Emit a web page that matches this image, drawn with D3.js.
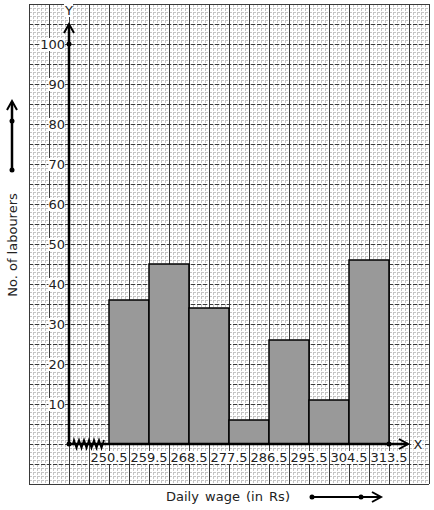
<!DOCTYPE html>
<html><head><meta charset="utf-8">
<script src="https://cdn.jsdelivr.net/npm/d3@7/dist/d3.min.js"></script>
<style>body{margin:0;background:#fff}svg{display:block}text{font-family:"DejaVu Sans",sans-serif;}</style>
</head><body>
<script>
const classBounds = [250.5, 259.5, 268.5, 277.5, 286.5, 295.5, 304.5, 313.5];
const labourers = [36, 45, 34, 6, 26, 11, 46];
const yTicks = [10, 20, 30, 40, 50, 60, 70, 80, 90, 100];
const xLabel = "Daily wage (in Rs)";
const yLabel = "No. of labourers";

const W = 434, H = 510;
const svg = d3.select("body").append("svg").attr("width", W).attr("height", H);

const x = d3.scaleLinear().domain([232.5, 322.5]).range([29, 429]);
const y = d3.scaleLinear().domain([-10, 110]).range([484, 4]);
const x0 = 241.5; // origin (broken axis)

// graph paper
const g = svg.append("g");
const xMinor = d3.range(0, 101).map(i => 232.5 + i * 0.9);
const yMinor = d3.range(-10, 111, 1);
g.selectAll(".vm").data(xMinor).join("line")
  .attr("x1", d => Math.round(x(d)) + 0.5).attr("x2", d => Math.round(x(d)) + 0.5)
  .attr("y1", y(110)).attr("y2", y(-10))
  .attr("stroke", "#c4c4c4").attr("stroke-width", 1).attr("stroke-dasharray", "3,1");
g.selectAll(".hm").data(yMinor).join("line")
  .attr("y1", d => Math.round(y(d)) + 0.5).attr("y2", d => Math.round(y(d)) + 0.5)
  .attr("x1", x(232.5)).attr("x2", x(322.5))
  .attr("stroke", "#c4c4c4").attr("stroke-width", 1).attr("stroke-dasharray", "3,1");
const xMajor = d3.range(0, 21).map(i => 232.5 + i * 4.5);
const yMajor = d3.range(-10, 111, 5);
g.selectAll(".vM").data(xMajor).join("line")
  .attr("x1", d => Math.round(x(d)) + 0.5).attr("x2", d => Math.round(x(d)) + 0.5)
  .attr("y1", y(110)).attr("y2", y(-10))
  .attr("stroke", "#3a3a3a").attr("stroke-width", 1);
g.selectAll(".hM").data(yMajor).join("line")
  .attr("y1", d => Math.round(y(d)) + 0.5).attr("y2", d => Math.round(y(d)) + 0.5)
  .attr("x1", x(232.5)).attr("x2", x(322.5))
  .attr("stroke", "#3a3a3a").attr("stroke-width", 1)
  .attr("stroke-dasharray", d => (d === -10 || d === 110) ? null : "4,2");

// bars
const bars = labourers.map((v, i) => ({ a: classBounds[i], b: classBounds[i + 1], v }));
svg.selectAll(".bar").data(bars).join("rect")
  .attr("x", d => x(d.a)).attr("width", d => x(d.b) - x(d.a))
  .attr("y", d => y(d.v)).attr("height", d => y(0) - y(d.v))
  .attr("fill", "#999999").attr("stroke", "#000").attr("stroke-width", 1.5);

// axes
const ax = svg.append("g").attr("stroke", "#000").attr("fill", "none");
const ox = x(x0), oy = y(0);
ax.append("line").attr("x1", ox).attr("x2", ox).attr("y1", oy).attr("y2", 24).attr("stroke-width", 2.5);
ax.append("path").attr("d", `M${ox - 5},${33} L${ox},${24} L${ox + 5},${33}`).attr("stroke-width", 2);
ax.append("line").attr("x1", ox).attr("x2", 408).attr("y1", oy).attr("y2", oy).attr("stroke-width", 2.5);
ax.append("path").attr("d", `M${399},${oy - 5} L${408},${oy} L${399},${oy + 5}`).attr("stroke-width", 2);
// zigzag break
let zz = `M${ox + 4},${oy}`;
for (let i = 0; i < 6; i++) {
  const bx = ox + 5 + i * 5;
  zz += ` L${bx},${oy - 4} L${bx + 2.5},${oy + 4} L${bx + 5},${oy - 4}`;
}
ax.append("path").attr("d", zz).attr("stroke-width", 1.8);

const dots = [[ox, oy], [ox, y(100)], [x(313.5), oy]];
svg.selectAll(".dot").data(dots).join("circle")
  .attr("cx", d => d[0]).attr("cy", d => d[1]).attr("r", 2.5).attr("fill", "#000");

// labels with white backgrounds
function boxed(tx, ty, txt, anchor, size) {
  const gg = svg.append("g");
  const r = gg.append("rect").attr("fill", "#fff");
  const t = gg.append("text").attr("x", tx).attr("y", ty).attr("text-anchor", anchor)
    .attr("font-size", size).attr("fill", "#222").text(txt);
  const b = t.node().getBBox();
  r.attr("x", b.x).attr("y", b.y + 1).attr("width", b.width).attr("height", b.height - 2);
}
yTicks.forEach(v => boxed(ox - 4, y(v) + 5, v, "end", 13));
classBounds.forEach(v => boxed(x(v), oy + 18, v.toFixed(1), "middle", 13));
boxed(ox, 15, "Y", "middle", 13);
boxed(418, oy + 5, "X", "middle", 13);

// axis titles
svg.append("text").attr("x", 228).attr("y", 501).attr("text-anchor", "middle")
  .attr("font-size", 13).attr("fill", "#222").attr("word-spacing", 2).text(xLabel);
svg.append("text").attr("transform", "translate(17,245) rotate(-90)").attr("text-anchor", "middle")
  .attr("font-size", 13).attr("fill", "#222").text(yLabel);

// decorative arrows
const dec = svg.append("g").attr("stroke", "#000").attr("fill", "none");
dec.append("line").attr("x1", 12).attr("x2", 12).attr("y1", 170).attr("y2", 102).attr("stroke-width", 2.5);
dec.append("path").attr("d", "M7,110 L12,101 L17,110").attr("stroke-width", 2);
dec.append("line").attr("x1", 311).attr("x2", 380).attr("y1", 497).attr("y2", 497).attr("stroke-width", 2);
dec.append("path").attr("d", "M372,492 L381,497 L372,502").attr("stroke-width", 2);
svg.selectAll(".ddot").data([[12, 121], [12, 170], [312, 497], [361, 497]]).join("circle")
  .attr("cx", d => d[0]).attr("cy", d => d[1]).attr("r", 2.5).attr("fill", "#000");
</script>
</body></html>
